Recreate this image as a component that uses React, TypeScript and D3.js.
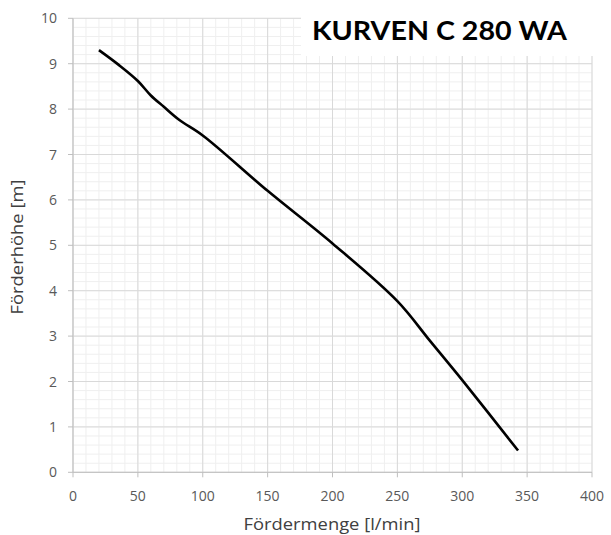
import React from "react";
import * as d3 from "d3";

const flowValues = [20, 35, 50, 60, 70, 82, 100, 150, 200, 250, 275, 300, 343];
const headValues = [9.3, 8.98, 8.62, 8.3, 8.05, 7.76, 7.42, 6.2, 5.04, 3.77, 2.9, 2.03, 0.48];
const xTicks = [0, 50, 100, 150, 200, 250, 300, 350, 400];
const yTicks = [0, 1, 2, 3, 4, 5, 6, 7, 8, 9, 10];
const xMinor = d3.range(0, 401, 10);
const yMinor = d3.range(0, 10.01, 0.2);
const title = "KURVEN C 280 WA";
const xTitle = "Fördermenge [l/min]";
const yTitle = "Förderhöhe [m]";

export default function App() {
  const W = 611, H = 535;
  const x = d3.scaleLinear().domain([0, 400]).range([73, 592]);
  const y = d3.scaleLinear().domain([0, 10]).range([472.3, 18.3]);
  const pts = flowValues.map((f, i) => [f, headValues[i]] as [number, number]);
  const line = d3.line<[number, number]>().x(d => x(d[0])).y(d => y(d[1])).curve(d3.curveCatmullRom.alpha(0.5));
  const tickFont = "'Open Sans', sans-serif";
  return (
    <svg width={W} height={H} style={{ position: "absolute", left: 0, top: 0, background: "#fff" }}>
      <rect x={0} y={0} width={W} height={H} fill="#fff" />
      {xMinor.map(v => (
        <line key={"xm" + v} x1={x(v)} x2={x(v)} y1={y(0)} y2={y(10)} stroke="#efefef" strokeWidth={1} />
      ))}
      {yMinor.map(v => (
        <line key={"ym" + v} x1={x(0)} x2={x(400)} y1={y(v)} y2={y(v)} stroke="#efefef" strokeWidth={1} />
      ))}
      {xTicks.map(v => (
        <line key={"xM" + v} x1={x(v)} x2={x(v)} y1={y(0)} y2={y(10)} stroke="#d9d9d9" strokeWidth={1} />
      ))}
      {yTicks.map(v => (
        <line key={"yM" + v} x1={x(0)} x2={x(400)} y1={y(v)} y2={y(v)} stroke="#d9d9d9" strokeWidth={1} />
      ))}
      <line x1={x(0)} x2={x(0)} y1={y(0)} y2={y(10)} stroke="#bfbfbf" />
      <line x1={x(0)} x2={x(400)} y1={y(0)} y2={y(0)} stroke="#bfbfbf" />
      {yTicks.map(v => (
        <line key={"yt" + v} x1={x(0) - 5} x2={x(0)} y1={y(v)} y2={y(v)} stroke="#bfbfbf" />
      ))}
      {xTicks.map(v => (
        <line key={"xt" + v} x1={x(v)} x2={x(v)} y1={y(0)} y2={y(0) + 5} stroke="#bfbfbf" />
      ))}
      {yTicks.map(v => (
        <text key={"yl" + v} x={57} y={y(v) + 5} textAnchor="end" fontFamily={tickFont} fontSize={14} fill="#595959">{v}</text>
      ))}
      {xTicks.map(v => (
        <text key={"xl" + v} x={x(v)} y={501} textAnchor="middle" fontFamily={tickFont} fontSize={14} fill="#595959">{v}</text>
      ))}
      <path d={line(pts) || ""} fill="none" stroke="#000" strokeWidth={2.6} strokeLinejoin="round" />
      <rect x={301} y={0} width={W - 301} height={56} fill="#fff" />
      <text x={312} y={39.5} fontFamily="Lato, sans-serif" fontWeight={700} fontSize={27} fill="#000" textLength={255} lengthAdjust="spacingAndGlyphs">{title}</text>
      <text x={332} y={530} textAnchor="middle" fontFamily={tickFont} fontSize={17} fill="#404040" textLength={177} lengthAdjust="spacingAndGlyphs">{xTitle}</text>
      <text transform={`translate(23,247) rotate(-90)`} textAnchor="middle" fontFamily={tickFont} fontSize={17} fill="#404040" textLength={135} lengthAdjust="spacingAndGlyphs">{yTitle}</text>
    </svg>
  );
}
